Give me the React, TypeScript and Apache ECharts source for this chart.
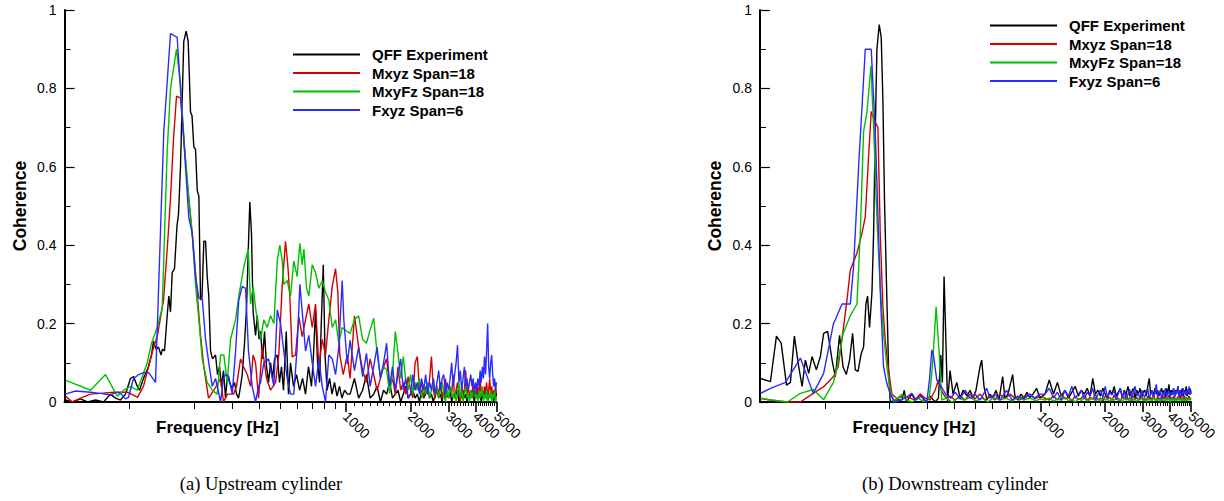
import React, { useEffect, useRef } from "react";
import * as echarts from "echarts";

type Pair = [number, number];

const seriesNames = ["QFF Experiment", "Mxyz Span=18", "MxyFz Span=18", "Fxyz Span=6"];
const seriesColors = ["#000000", "#d40000", "#00c000", "#2a2aff"];

const captions = ["(a) Upstream cylinder", "(b) Downstream cylinder"];

const xMin = 50;
const xMax = 5000;
const majorTicks = [1000, 2000, 3000, 4000, 5000];
const midTicks = [100, 200, 300, 400, 500, 600, 700, 800, 900];
const minorTicks = [
  1100, 1200, 1300, 1400, 1500, 1600, 1700, 1800, 1900,
  2100, 2200, 2300, 2400, 2500, 2600, 2700, 2800, 2900,
  3100, 3200, 3300, 3400, 3500, 3600, 3700, 3800, 3900,
  4100, 4200, 4300, 4400, 4500, 4600, 4700, 4800, 4900,
];

// shared high-frequency grid (Hz)
const hiFreq = [
  1050, 1100, 1150, 1200, 1250, 1300, 1350, 1400, 1450, 1500,
  1550, 1600, 1650, 1700, 1750, 1800, 1850, 1900, 1950, 2000,
  2050, 2100, 2150, 2200, 2250, 2300, 2350, 2400, 2450, 2500,
  2550, 2600, 2650, 2700, 2750, 2800, 2850, 2900, 2950, 3000,
  3050, 3100, 3150, 3200, 3250, 3300, 3350, 3400, 3450, 3500,
  3550, 3600, 3650, 3700, 3750, 3800, 3850, 3900, 3950, 4000,
  4050, 4100, 4150, 4200, 4250, 4300, 4350, 4400, 4450, 4500,
  4550, 4600, 4650, 4700, 4750, 4800, 4850, 4900, 4950, 5000,
];

// ---------- (a) Upstream cylinder ----------
const qffA_low: Pair[] = [[50.5,0.005],[54.4,0],[59.3,0.008],[63.9,0],[69.6,0.005],[75.8,0],[81.6,0.02],[86.1,0.01],[90.8,0.005],[95.8,0.02],[101,0.06],[104.4,0.065],[107.7,0.045],[111.2,0.03],[116,0.06],[122.4,0.09],[126.4,0.12],[129.1,0.155],[132.6,0.135],[136.2,0.14],[139.9,0.12],[142.1,0.135],[145.2,0.13],[149.4,0.22],[152,0.27],[154.8,0.23],[157.6,0.33],[161.5,0.34],[165.9,0.45],[168.6,0.48],[172.2,0.6],[175.3,0.77],[178.3,0.92],[182.9,0.946],[186.9,0.92],[191.6,0.74],[194.7,0.73],[198.5,0.65],[202.1,0.645],[205.8,0.54],[209.4,0.525],[213.2,0.26],[216.6,0.27],[220.8,0.41],[224.9,0.41],[228.9,0.32],[232.8,0.27],[237.2,0.13],[242.3,0.11],[250.2,0.12],[255.5,0.07],[261,0.09],[266.6,0.04],[272.3,0.08],[278.3,0.01],[284.2,0.07],[290.3,0.05],[298.2,0.035],[306.2,0.05],[312.9,0.02],[319.6,0.01],[326.6,0.04],[332.4,0.07],[340.7,0.15],[348,0.24],[356.6,0.43],[360.5,0.51],[367,0.43],[373.4,0.23],[383.3,0.17],[390.3,0.22],[397.9,0.16],[404.3,0.18],[412.9,0.11],[421.8,0.18],[430.9,0.09],[440.1,0.05],[449.8,0.1],[459.5,0.06],[469.4,0.11],[483.2,0.12],[494.7,0.05],[505.3,0.09],[516.2,0.03],[531.4,0.18],[544.5,0.02],[556.3,0.1],[574.3,0.04],[593.3,0.07],[612.7,0.03],[632.7,0.06],[652.9,0.02],[673.8,0.09],[695.6,0.04],[710.7,0.12],[726.4,0.235],[742.3,0.1],[758.3,0.05],[772.2,0.2],[788.9,0.35],[803.8,0.12],[821.3,0.03],[843.5,0.06],[866.3,0.02],[889.2,0.05],[913.3,0.015],[937.6,0.04],[963.1,0.01],[989.3,0.03],[1021.5,0.02]];
const qffA_hi = [
  0.02,0.06,0.01,0.03,0.07,0.01,0.02,0.04,0,0.03,
  0.02,0.05,0.01,0.02,0.03,0,0.02,0.04,0.01,0.02,
  0.03,0.01,0.02,0,0.03,0.01,0.02,0.04,0.01,0.02,
  0,0.02,0.03,0.01,0.02,0,0.03,0.01,0.02,0.01,
  0.03,0,0.02,0.01,0.02,0.03,0,0.02,0.01,0.03,
  0.01,0.02,0,0.02,0.01,0.03,0.01,0.02,0,0.02,
  0.01,0.03,0.01,0.02,0,0.02,0.01,0.03,0.01,0.02,
  0,0.02,0.01,0.03,0.01,0.02,0,0.02,0.01,0.02,
];

const mxyzA_low: Pair[] = [[50.5,0.015],[54.4,0],[59.3,0.01],[66,0.02],[73.4,0.022],[84.3,0.025],[97.9,0.025],[108.9,0.012],[116,0.04],[121.1,0.08],[127.8,0.13],[134.7,0.17],[143.7,0.26],[149.9,0.4],[154.8,0.52],[159.8,0.67],[165,0.78],[172.2,0.775],[177.8,0.68],[185.6,0.55],[195.1,0.43],[202.1,0.33],[213.2,0.17],[220.8,0.09],[232.1,0.01],[245.7,0.03],[263.9,0.06],[272.3,0],[284.2,0.02],[303,0.02],[312.9,0.04],[326.6,0.11],[337.1,0.09],[350.6,0.07],[363.4,0.04],[373.4,0.12],[383.3,0.1],[395.7,0.01],[411.5,0.14],[430.9,0.06],[449.8,0.03],[474.5,0.05],[491,0.12],[509.1,0.295],[527.4,0.41],[540.4,0.35],[552.2,0.27],[566.5,0.115],[586.8,0.12],[607.9,0.217],[630.3,0.167],[652.9,0.21],[676.1,0.25],[701.2,0.19],[726.4,0.25],[752.4,0.09],[780.2,0.16],[808.2,0.12],[836.9,0.21],[867.9,0.295],[899.3,0.34],[921.2,0.28],[941,0.12],[975.9,0.07],[1018.9,0.12]];
const mxyzA_hi = [
  0.06,0.22,0.14,0.08,0.05,0.11,0.07,0.03,0.06,0.09,
  0.11,0.04,0.06,0.02,0.09,0.03,0.05,0.02,0.065,0.03,
  0.01,0.1,0.116,0.03,0.05,0.01,0.04,0.02,0.06,0.116,
  0.03,0.01,0.04,0.02,0.05,0.01,0.03,0.06,0.02,0.01,
  0.04,0.02,0.07,0.01,0.03,0.05,0.02,0,0.04,0.02,
  0.03,0.08,0.02,0.04,0.01,0.03,0.02,0.05,0.01,0.03,
  0.02,0.04,0.01,0.06,0.02,0.03,0.01,0.04,0.02,0.05,
  0.01,0.03,0.06,0.02,0.04,0.01,0.03,0.02,0.04,0.02,
];

const mxyfzA_low: Pair[] = [[50.5,0.056],[66,0.03],[77.4,0.07],[87.7,0.015],[93.8,0.03],[101,0.04],[108.5,0.03],[113.7,0.06],[120.8,0.1],[126.4,0.15],[134.3,0.19],[141.7,0.24],[149.4,0.64],[154.8,0.8],[165,0.9],[172.2,0.81],[179.8,0.65],[188.2,0.52],[195.1,0.43],[202.1,0.3],[209.4,0.21],[217,0.11],[228.9,0.05],[241.5,0.03],[254.7,0.02],[263.9,0.12],[273.2,0.12],[283.3,0.05],[293.6,0.16],[309.7,0.21],[320.6,0.27],[338.2,0.345],[354.5,0.39],[363.4,0.25],[373.4,0.295],[383.3,0.24],[390.3,0.21],[404.3,0.16],[418.6,0.21],[433.9,0.19],[449.8,0.22],[465.9,0.2],[483.2,0.36],[496.3,0.4],[509.1,0.36],[517.9,0.3],[537,0.31],[556.3,0.27],[576.1,0.36],[597.3,0.32],[614.6,0.405],[630.3,0.35],[641.6,0.39],[660.3,0.29],[676.1,0.27],[701.2,0.35],[726.4,0.33],[752.4,0.29],[780.2,0.31],[808.2,0.28],[836.9,0.26],[867.9,0.19],[899.3,0.21],[930.6,0.15],[965.1,0.19],[1018.9,0.18]];
const mxyfzA_hi = [
  0.175,0.21,0.22,0.16,0.15,0.184,0.214,0.124,0.065,0.09,
  0.082,0.022,0.07,0.18,0.124,0.06,0.116,0.056,0.03,0.07,
  0.02,0.05,0.03,0.06,0.01,0.04,0.02,0.05,0.01,0.03,
  0.06,0.02,0.04,0.01,0.03,0.05,0.02,0,0.03,0.01,
  0.04,0.02,0.01,0.03,0,0.02,0.05,0.01,0.03,0,
  0.02,0.04,0.01,0.02,0,0.03,0.01,0.02,0.04,0.01,
  0.02,0,0.03,0.01,0.02,0.04,0,0.02,0.01,0.03,
  0,0.02,0.01,0.03,0,0.02,0.01,0.03,0,0.01,
];

const fxyzA_low: Pair[] = [[50.5,0.02],[56.2,0.028],[66,0.025],[73.4,0.022],[81.6,0.018],[87.7,0.025],[91.8,0.02],[95.8,0.008],[98.9,0.012],[104.4,0.06],[110.4,0.07],[116,0.075],[122.8,0.075],[131.9,0.05],[144.1,0.69],[154.8,0.94],[166.2,0.93],[176.8,0.7],[188.2,0.47],[195.1,0.43],[202.1,0.32],[209.4,0.265],[217,0.265],[224.9,0.16],[232.8,0.1],[241.5,0.04],[250.2,0.06],[263.9,0],[272.3,0.06],[278.3,0.07],[288.1,0.065],[298.8,0.02],[309.7,0.13],[320.6,0.26],[332.4,0.295],[344.5,0.29],[355.5,0.13],[369.8,0.04],[383.3,0],[395.7,0.04],[404.3,0.05],[418.6,0.1],[440.1,0.11],[465.9,0.04],[483.2,0.235],[500,0.2],[517.9,0.13],[537,0.06],[556.3,0.02],[576.1,0.02],[597.3,0.14],[614.6,0.3],[630.3,0.23],[652.9,0.13],[676.1,0.17],[701.2,0.1],[726.4,0.04],[752.4,0.11],[780.2,0.04],[808.2,0],[836.9,0.12],[867.9,0.11],[899.3,0.07],[930.6,0.14],[965.1,0.31],[982.1,0.21],[1018.9,0.097]];
const fxyzA_hi = [
  0.157,0.08,0.14,0.065,0.124,0.04,0.09,0.14,0.06,0.1,
  0.15,0.04,0.09,0.03,0.07,0.11,0.03,0.06,0.01,0.02,
  0.07,0.03,0.05,0.02,0.06,0.03,0.07,0.02,0.05,0.03,
  0.06,0.02,0.05,0.08,0.03,0.06,0.07,0.02,0.05,0.03,
  0.06,0.1,0.04,0.07,0.1,0.145,0.05,0.08,0.03,0.06,
  0.09,0.04,0.06,0.03,0.05,0.07,0.04,0.06,0.02,0.05,
  0.03,0.06,0.04,0.08,0.05,0.09,0.06,0.116,0.07,0.13,
  0.2,0.09,0.06,0.1,0.12,0.07,0.04,0.06,0.03,0.05,
];

// ---------- (b) Downstream cylinder ----------
const qffB_low: Pair[] = [[50.3,0.06],[55.9,0.052],[59.6,0.168],[62.7,0.15],[66.4,0.043],[69.2,0.05],[72.2,0.168],[75.6,0.09],[78.4,0.04],[81.2,0.107],[84.1,0.073],[87.2,0.116],[91.3,0.082],[95.3,0.116],[98.7,0.175],[103,0.18],[108,0.107],[111.8,0.064],[117,0.17],[121.4,0.09],[125.7,0.07],[130.2,0.107],[134.5,0.175],[138.4,0.082],[142.5,0.078],[147.5,0.124],[151.2,0.14],[155.1,0.25],[157.8,0.27],[161.2,0.19],[165.4,0.28],[168.3,0.43],[171.3,0.69],[174.4,0.9],[178.7,0.963],[182.6,0.93],[185.9,0.77],[189.1,0.516],[194,0.26],[197.4,0.09],[201,0],[212,0.005],[227.9,0.005],[233.6,0.03],[238.2,0],[253.4,0.02],[262.4,0.005],[276.8,0.02],[291.9,0],[307.9,0.015],[324.8,0],[336.4,0.01],[345.1,0.12],[351,0.05],[357.4,0.32],[363.9,0.167],[370.9,0],[381,0.08],[393.4,0.02],[409.3,0.05],[424.2,0.01],[438,0.03],[457,0.015],[471.8,0.03],[487.1,0.01],[502.7,0.03],[524.6,0.09],[534.2,0.107],[547.5,0.04],[565.3,0.005],[583.6,0.02],[602.6,0.01],[622.2,0.03],[642.5,0.005],[668.3,0.065],[685,0.01],[707.3,0.02],[743.5,0.07],[762.1,0.015],[786.9,0.005],[812.4,0.02],[838.8,0.01],[866,0.025],[894.2,0.01],[923.2,0.02],[960.3,0.035],[994.7,0.01]];
const qffB_hi = [
  0.02,0.056,0.02,0.05,0.015,0.03,0.01,0.025,0.04,0.015,
  0.03,0.02,0.035,0.015,0.06,0.02,0.03,0.015,0.035,0.02,
  0.01,0.03,0.02,0.04,0.015,0.025,0.035,0.01,0.03,0.02,
  0.04,0.015,0.025,0.035,0.01,0.03,0.02,0.035,0.015,0.025,
  0.03,0.015,0.04,0.06,0.02,0.03,0.015,0.035,0.02,0.03,
  0.015,0.025,0.035,0.02,0.03,0.01,0.035,0.02,0.045,0.015,
  0.03,0.02,0.035,0.015,0.03,0.025,0.04,0.015,0.03,0.02,
  0.035,0.015,0.03,0.02,0.04,0.015,0.03,0.02,0.035,0.02,
];

const mxyzB_low: Pair[] = [[50.3,0.009],[55.9,0.005],[67,0],[77,0],[88.3,0.022],[98.7,0.039],[109.6,0.065],[115.3,0.09],[121.6,0.184],[126.6,0.26],[131.2,0.336],[140.9,0.38],[148.6,0.43],[154,0.473],[159.5,0.625],[164.1,0.741],[169.4,0.72],[176.3,0.7],[180.7,0.43],[185.9,0.243],[190.6,0.158],[197.4,0.082],[204.7,0.02],[215.9,0.009],[230.9,0.015],[248.9,0.01],[262.4,0.005],[276.8,0.02],[291.9,0.01],[307.9,0.005],[324.8,0.03],[336.4,0.056],[348.8,0.027],[365,0.01],[381,0.015],[401.9,0.005],[424.2,0.015],[447.2,0.005],[471.8,0.02],[497.4,0.008],[524.6,0.02],[553.3,0.005],[583.6,0.015],[615.5,0.005],[649.3,0.02],[685,0.008],[722.5,0.02],[762.1,0.01],[803.8,0.005],[847.9,0.015],[894.2,0.02],[943.5,0.008],[994.7,0.015]];
const mxyzB_hi = [
  0.01,0.005,0.015,0.005,0.02,0.008,0.012,0.003,0.015,0.006,
  0.01,0.018,0.004,0.012,0.007,0.02,0.005,0.01,0.003,0.015,
  0.008,0.012,0.004,0.018,0.006,0.01,0.002,0.014,0.008,0.02,
  0.005,0.011,0.003,0.016,0.007,0.012,0.004,0.01,0.018,0.006,
  0.009,0.003,0.015,0.007,0.012,0.005,0.02,0.008,0.004,0.013,
  0.006,0.011,0.003,0.016,0.008,0.012,0.005,0.01,0.018,0.004,
  0.012,0.007,0.015,0.003,0.01,0.006,0.014,0.008,0.02,0.005,
  0.011,0.004,0.016,0.007,0.012,0.003,0.01,0.015,0.006,0.01,
];

const mxyfzB_low: Pair[] = [[50.3,0.01],[55.9,0.005],[67,0],[77,0.022],[88.3,0.032],[98.7,0.006],[109.6,0.05],[113.9,0.09],[121.6,0.175],[131.2,0.22],[140.9,0.25],[146,0.43],[151.2,0.69],[156.8,0.74],[163.6,0.857],[168.3,0.7],[174.4,0.47],[180.7,0.29],[187.1,0.175],[194,0.09],[201,0.03],[208.2,0],[227.9,0.02],[238.2,0.005],[254.1,0],[270.9,0.01],[288.8,0],[304.6,0.01],[313.5,0.073],[318.9,0.13],[328.2,0.243],[339.9,0.116],[348.8,0.005],[365,0.01],[389.2,0],[415,0.01],[442.5,0.005],[471.8,0.012],[502.7,0.003],[535.9,0.01],[571.4,0],[608.9,0.012],[649.3,0.005],[692.4,0.01],[738.2,0.002],[786.9,0.012],[838.8,0.005],[894.2,0.01],[953.1,0.003],[994.7,0.008]];
const mxyfzB_hi = [
  0.005,0.01,0.002,0.008,0.004,0.012,0.003,0.007,0,0.009,
  0.004,0.011,0.002,0.006,0.01,0.003,0.008,0.001,0.012,0.005,
  0.007,0.002,0.009,0.004,0.011,0.003,0.006,0,0.01,0.005,
  0.008,0.002,0.012,0.004,0.007,0.001,0.009,0.005,0.011,0.003,
  0.006,0,0.01,0.004,0.008,0.002,0.012,0.005,0.007,0.003,
  0.009,0.001,0.011,0.004,0.006,0.002,0.01,0.005,0.008,0,
  0.012,0.003,0.007,0.004,0.009,0.002,0.011,0.005,0.006,0.001,
  0.01,0.004,0.008,0.002,0.012,0.003,0.007,0.005,0.009,0.004,
];

const fxyzB_low: Pair[] = [[50.3,0.022],[55.9,0.035],[65.7,0.05],[77,0.112],[88.3,0.022],[98.7,0.073],[109.6,0.2],[111.8,0.21],[120.1,0.25],[131.2,0.25],[135.9,0.345],[143.4,0.6],[154,0.9],[164.1,0.9],[171.3,0.69],[177.4,0.43],[181.7,0.25],[187.1,0.09],[194,0.047],[201,0.02],[212,0],[235.8,0.01],[253.4,0.022],[265.2,0.005],[279.7,0.015],[297.2,0],[306.2,0.06],[313.5,0.133],[318.9,0.12],[330.7,0.056],[348.8,0.037],[365,0.018],[385.1,0.01],[401.9,0.025],[424.2,0.008],[447.2,0.03],[471.8,0.01],[497.4,0.02],[524.6,0.005],[563.5,0.035],[583.6,0.01],[615.5,0.02],[649.3,0.005],[697.5,0.03],[738.2,0.005],[786.9,0.015],[838.8,0.008],[894.2,0.02],[943.5,0.01],[994.7,0.02]];
const fxyzB_hi = [
  0.02,0.035,0.01,0.025,0.005,0.03,0.015,0.04,0.01,0.02,
  0.03,0.008,0.025,0.015,0.035,0.005,0.02,0.03,0.012,0.04,
  0.01,0.025,0.018,0.03,0.006,0.022,0.035,0.012,0.028,0.008,
  0.02,0.032,0.01,0.025,0.04,0.015,0.022,0.008,0.03,0.018,
  0.012,0.028,0.035,0.01,0.02,0.03,0.015,0.025,0.045,0.012,
  0.02,0.03,0.008,0.025,0.018,0.035,0.012,0.022,0.03,0.01,
  0.025,0.018,0.035,0.012,0.028,0.02,0.04,0.015,0.03,0.022,
  0.012,0.035,0.02,0.028,0.015,0.032,0.022,0.04,0.018,0.03,
];

function join(low: Pair[], hi: number[]): Pair[] {
  const out: Pair[] = low.slice();
  const n = Math.min(hiFreq.length, hi.length);
  for (let i = 0; i < n; i++) out.push([hiFreq[i], hi[i]]);
  return out;
}

const FONT = "'Liberation Sans', Arial, Helvetica, sans-serif";
const SERIF = "'Liberation Serif', 'Times New Roman', serif";

function tickAxis(gridIndex: number, values: number[], len: number, width: number, withLabels: boolean) {
  const lv = values.map((v) => Math.log10(v));
  return {
    type: "value",
    gridIndex,
    position: "bottom",
    min: Math.log10(xMin),
    max: Math.log10(xMax),
    silent: true,
    axisLine: { show: false, onZero: false },
    splitLine: { show: false },
    axisTick: {
      show: true,
      customValues: lv,
      length: len,
      inside: false,
      lineStyle: { color: "#000", width },
    },
    axisLabel: withLabels
      ? {
          show: true,
          customValues: lv,
          formatter: (v: number) => String(Math.round(Math.pow(10, v))),
          rotate: -45,
          margin: 12,
          fontFamily: FONT,
          fontSize: 14,
          color: "#000",
        }
      : { show: false },
  };
}

function buildOption() {
  const grids = [
    { left: 64.5, top: 10, width: 432, height: 392 },
    { left: 760, top: 10, width: 431, height: 392 },
  ];
  const titlePad = [126, 123];
  const xAxes: any[] = [];
  const yAxes: any[] = [];
  grids.forEach((_, gi) => {
    xAxes.push({
      type: "log",
      logBase: 10,
      gridIndex: gi,
      position: "bottom",
      min: xMin,
      max: xMax,
      axisLine: { show: true, onZero: false, lineStyle: { color: "#000", width: 2 } },
      axisTick: { show: false },
      axisLabel: { show: false },
      splitLine: { show: false },
      name: "Frequency [Hz]",
      nameLocation: "middle",
      nameGap: 17,
      nameTextStyle: {
        fontFamily: FONT,
        fontSize: 17,
        fontWeight: "bold",
        color: "#000",
        padding: [0, titlePad[gi], 0, 0],
      },
    });
    xAxes.push(tickAxis(gi, majorTicks, 10, 1.6, true));
    xAxes.push(tickAxis(gi, midTicks, 7, 1, false));
    xAxes.push(tickAxis(gi, minorTicks, 4, 1, false));
    yAxes.push({
      type: "value",
      gridIndex: gi,
      position: "left",
      min: 0,
      max: 1,
      interval: 0.2,
      axisLine: { show: true, onZero: false, lineStyle: { color: "#000", width: 2 } },
      axisTick: { show: true, inside: true, length: 10, lineStyle: { color: "#000", width: 1.2 } },
      minorTick: { show: true, splitNumber: 2, length: 6, lineStyle: { color: "#000", width: 1 } },
      splitLine: { show: false },
      minorSplitLine: { show: false },
      axisLabel: { fontFamily: FONT, fontSize: 14, color: "#000", margin: 8 },
      name: "Coherence",
      nameLocation: "middle",
      nameGap: 36,
      nameRotate: 90,
      nameTextStyle: { fontFamily: FONT, fontSize: 17.5, fontWeight: "bold", color: "#000" },
    });
  });

  const panels: Pair[][][] = [
    [join(qffA_low, qffA_hi), join(mxyzA_low, mxyzA_hi), join(mxyfzA_low, mxyfzA_hi), join(fxyzA_low, fxyzA_hi)],
    [join(qffB_low, qffB_hi), join(mxyzB_low, mxyzB_hi), join(mxyfzB_low, mxyfzB_hi), join(fxyzB_low, fxyzB_hi)],
  ];

  const series: any[] = [];
  panels.forEach((list, gi) => {
    list.forEach((data, si) => {
      series.push({
        type: "line",
        name: seriesNames[si],
        xAxisIndex: gi * 4,
        yAxisIndex: gi,
        data,
        showSymbol: false,
        symbol: "none",
        clip: true,
        silent: true,
        lineStyle: { color: seriesColors[si], width: 1.4 },
        itemStyle: { color: seriesColors[si] },
      });
    });
  });

  const legendText = {
    fontFamily: FONT,
    fontSize: 15,
    fontWeight: "bold",
    color: "#000",
    padding: [0, 0, 0, 7],
  };
  const legendBase = {
    orient: "vertical",
    padding: 0,
    icon: "rect",
    itemWidth: 67,
    itemHeight: 2,
    itemGap: 3.5,
    selectedMode: false,
    data: seriesNames,
    textStyle: legendText,
  };

  return {
    animation: false,
    backgroundColor: "#ffffff",
    grid: grids,
    xAxis: xAxes,
    yAxis: yAxes,
    series,
    legend: [
      { ...legendBase, left: 293, top: 47 },
      { ...legendBase, left: 990, top: 18 },
    ],
    graphic: [
      {
        type: "text", x: 261, y: 484, silent: true,
        style: {
          text: captions[0], fontSize: 18.5, fontFamily: SERIF, fill: "#000",
          align: "center", verticalAlign: "middle", textAlign: "center", textVerticalAlign: "middle",
        },
      },
      {
        type: "text", x: 955, y: 484, silent: true,
        style: {
          text: captions[1], fontSize: 18.5, fontFamily: SERIF, fill: "#000",
          align: "center", verticalAlign: "middle", textAlign: "center", textVerticalAlign: "middle",
        },
      },
    ],
  };
}

export default function App() {
  const ref = useRef<HTMLDivElement>(null);
  useEffect(() => {
    if (!ref.current) return;
    const chart = echarts.init(ref.current, null, { renderer: "svg" });
    chart.setOption(buildOption() as any);
    return () => chart.dispose();
  }, []);
  return (
    <div
      ref={ref}
      style={{ position: "fixed", left: 0, top: 0, width: 1224, height: 501, background: "#fff" }}
    />
  );
}
